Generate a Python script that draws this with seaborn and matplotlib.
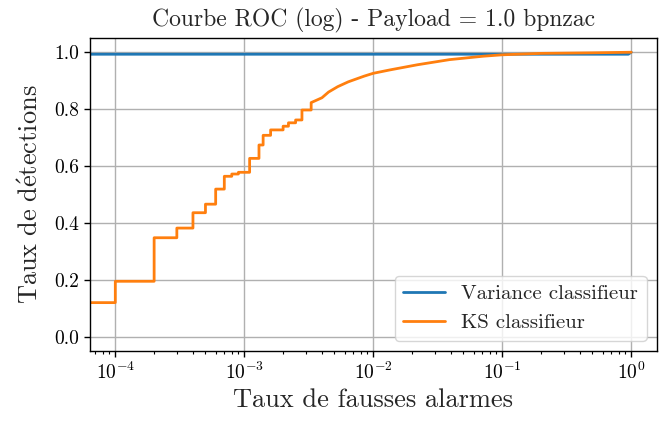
import numpy as np
import pandas as pd
import matplotlib
matplotlib.use("Agg")
import matplotlib.pyplot as plt
import seaborn as sns

# ROC points
var_fpr = [0, 0, 0.95, 1.0]
var_tpr = [0, 0.993, 0.993, 1.0]

ks_fpr = [0, 0, 1e-4, 1e-4, 2e-4, 2e-4, 3e-4, 3e-4, 4e-4, 4e-4, 5e-4, 5e-4,
          6e-4, 6e-4, 7e-4, 7e-4, 8e-4, 8e-4, 9e-4, 9e-4, 1.1e-3, 1.1e-3,
          1.3e-3, 1.3e-3, 1.4e-3, 1.4e-3, 1.6e-3, 1.6e-3, 2.0e-3, 2.0e-3,
          2.2e-3, 2.2e-3, 2.5e-3, 2.5e-3, 2.8e-3, 2.8e-3, 3.3e-3, 3.3e-3,
          4.0e-3, 4.5e-3, 5.3e-3, 6.4e-3, 8.5e-3, 1.0e-2, 1.35e-2, 2.2e-2,
          3.9e-2, 7.1e-2, 0.1, 0.2, 0.5, 1.0]
ks_tpr = [0, 0.12, 0.12, 0.195, 0.195, 0.348, 0.348, 0.382, 0.382, 0.436, 0.436, 0.466,
          0.466, 0.519, 0.519, 0.564, 0.564, 0.572, 0.572, 0.578, 0.578, 0.627,
          0.627, 0.674, 0.674, 0.708, 0.708, 0.727, 0.727, 0.740,
          0.740, 0.752, 0.752, 0.762, 0.762, 0.797, 0.797, 0.823,
          0.840, 0.860, 0.879, 0.896, 0.916, 0.926, 0.938, 0.956,
          0.974, 0.986, 0.991, 0.996, 0.998, 1.0]

names = ["Variance classifieur", "KS classifieur"]

roc = pd.concat([
    pd.DataFrame({"fpr": var_fpr, "tpr": var_tpr, "clf": names[0]}),
    pd.DataFrame({"fpr": ks_fpr, "tpr": ks_tpr, "clf": names[1]}),
], ignore_index=True)

sns.set_style("ticks")
plt.rcParams["font.family"] = "serif"
plt.rcParams["font.serif"] = ["cmr10"]
plt.rcParams["mathtext.fontset"] = "cm"
plt.rcParams["axes.formatter.use_mathtext"] = True
plt.rcParams["axes.unicode_minus"] = False

fig, ax = plt.subplots(figsize=(6.65, 4.21), dpi=100)
fig.subplots_adjust(left=0.1346, right=0.988, top=0.9097, bottom=0.1663)

sns.lineplot(data=roc, x="fpr", y="tpr", hue="clf", hue_order=names,
             palette=["#1f77b4", "#ff7f0e"], sort=False, estimator=None,
             linewidth=2, legend=False, ax=ax)

ax.set_xscale("log")
ax.set_xlim(10 ** -4.2, 10 ** 0.2)
ax.set_ylim(-0.05, 1.05)
ax.set_yticks([0.0, 0.2, 0.4, 0.6, 0.8, 1.0])
ax.set_yticklabels(["0.0", "0.2", "0.4", "0.6", "0.8", "1.0"])

ax.grid(True, which="major", color="#b0b0b0", linewidth=1.0)
for s in ax.spines.values():
    s.set_color("black")
    s.set_linewidth(1.0)
ax.tick_params(which="both", colors="black", labelsize=14, direction="out")
ax.tick_params(which="major", length=4, width=1)
ax.tick_params(which="minor", length=2.5, width=0.8)

ax.set_title("Courbe ROC (log) - Payload = 1.0 bpnzac", fontsize=17, pad=8)
ax.set_xlabel("Taux de fausses alarmes", fontsize=19)
ax.set_ylabel(r"$\mathrm{Taux\ de\ d\'etections}$", fontsize=19, labelpad=8)

ax.legend(handles=ax.lines[:2], labels=names, loc="lower right", fontsize=15)

fig.savefig("out.png", dpi=100)
